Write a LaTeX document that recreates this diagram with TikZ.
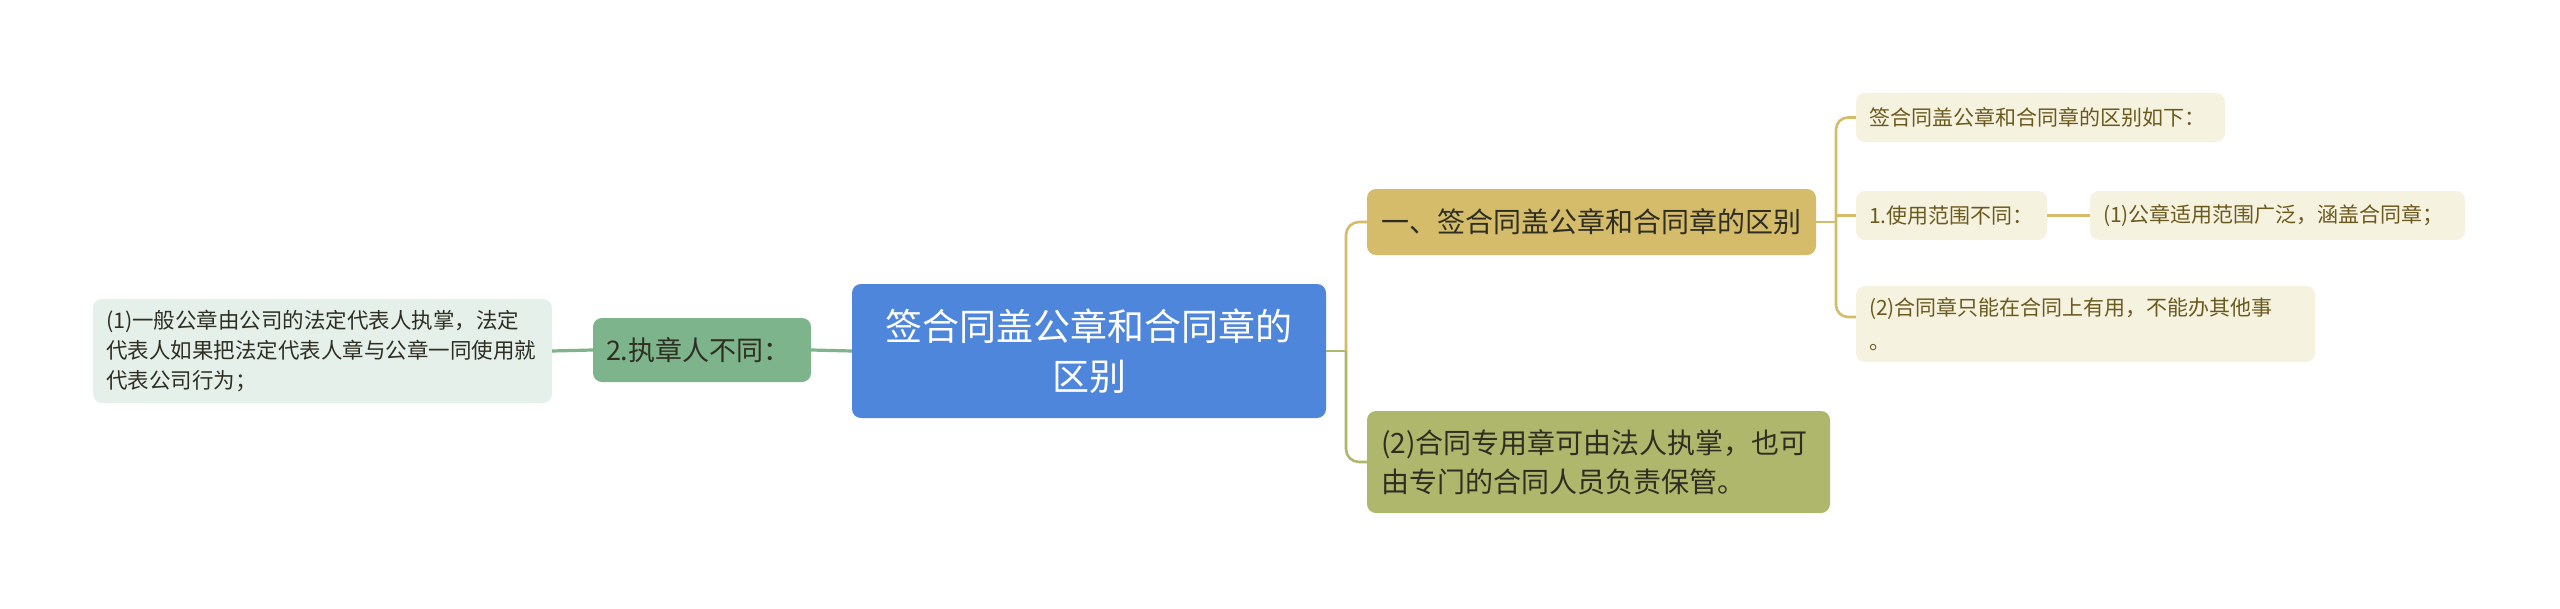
\documentclass[tikz,border=0pt]{standalone}
\usepackage{fontspec}
\setmainfont{Noto Sans CJK SC}
\definecolor{rootblue}{HTML}{4E86DB}
\definecolor{leafgreen}{HTML}{7DB48B}
\definecolor{palegreen}{HTML}{E6F0EB}
\definecolor{goldbox}{HTML}{D5BC6A}
\definecolor{olivebox}{HTML}{AEB76B}
\definecolor{creambox}{HTML}{F6F2E0}
\definecolor{creamtext}{HTML}{6B5A1E}
\definecolor{darktext}{HTML}{2E2E22}
\begin{document}
\begin{tikzpicture} [x=1pt, y=-1pt,
    box/.style={rounded corners=9pt, inner xsep=13pt, inner ysep=0pt, align=left},
    notebox/.style={box, fill=creambox, text=creamtext, minimum height=49pt, font=\fontsize{21}{34}\selectfont},
    wire/.style={line width=2.6pt}]
  \fill [white] (0,0) rectangle (2560,608);
  \useasboundingbox (0,0) rectangle (2560,608);
  % centre
  \node [box, fill=rootblue, text=white, align=center, minimum width=474pt, minimum height=134pt, font=\fontsize{37}{50}\selectfont] (root) at (1089,351) {签合同盖公章和合同章的\\区别};
  % left side
  \node [box, fill=leafgreen, text=darktext, text width=192pt, minimum height=64pt, font=\fontsize{27}{36}\selectfont] (holder) at (702,350) {2.执章人不同：};
  \node [box, fill=palegreen, text=darktext, text width=433pt, minimum height=104pt, font=\fontsize{21.5}{30}\selectfont] (holderNote) at (322.5,351) {(1)一般公章由公司的法定代表人执掌，法定\\代表人如果把法定代表人章与公章一同使用就\\代表公司行为；};
  % right side
  \node [box, fill=goldbox, text=darktext, inner xsep=14pt, text width=421pt, minimum height=66pt, font=\fontsize{28}{39}\selectfont] (diff) at (1591.5,222) {一、签合同盖公章和合同章的区别};
  \node [box, fill=olivebox, text=darktext, inner xsep=14pt, text width=435pt, minimum height=102pt, font=\fontsize{28}{39}\selectfont] (special) at (1598.5,462) {(2)合同专用章可由法人执掌，也可\\由专门的合同人员负责保管。};
  \node [notebox, text width=343pt] (intro) at (2040.5,117.5) {签合同盖公章和合同章的区别如下：};
  \node [notebox, text width=165pt] (scope) at (1951.5,215.5) {1.使用范围不同：};
  \node [notebox, text width=349pt] (scopeNote) at (2277.5,215.5) {(1)公章适用范围广泛，涵盖合同章；};
  \node [notebox, text width=433pt, minimum height=76pt] (contract) at (2085.5,324) {(2)合同章只能在合同上有用，不能办其他事\\。};
  % connectors
  \draw [wire, line width=3.2pt, leafgreen] (root.west) -- (holder.east);
  \draw [wire, line width=3.2pt, leafgreen] (holder.west) -- (holderNote.east);
  \coordinate (forkR) at (1346,351);
  \draw [wire, olivebox] (root.east) -- (forkR);
  \draw [wire, goldbox, rounded corners=13pt] (forkR) |- (diff.west);
  \draw [wire, olivebox, rounded corners=13pt] (forkR) |- (special.west);
  \coordinate (forkS) at (1836,222);
  \draw [wire, goldbox] (diff.east) -- (forkS);
  \draw [wire, goldbox, rounded corners=12pt] (forkS) |- (intro.west);
  \draw [wire, goldbox, rounded corners=12pt] (forkS) |- ([yshift=7pt]contract.west);
  \draw [wire, goldbox] (forkS |- scope.west) -- (scope.west);
  \draw [wire, goldbox] (scope.east) -- (scopeNote.west);
\end{tikzpicture}
\end{document}
